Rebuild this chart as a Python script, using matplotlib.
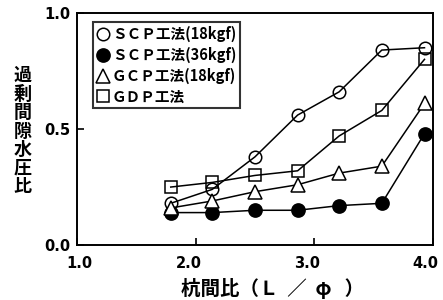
import matplotlib
matplotlib.use("Agg")
import matplotlib.pyplot as plt
import matplotlib.transforms as mtransforms
from matplotlib.lines import Line2D

plt.rcParams["font.family"] = ["Noto Sans CJK JP", "DejaVu Sans"]

# pile spacing ratio L/phi
x_ratio = [1.79, 2.14, 2.50, 2.86, 3.21, 3.57, 3.93]

scp_18 = [0.18, 0.24, 0.38, 0.56, 0.66, 0.84, 0.85]
scp_36 = [0.14, 0.14, 0.15, 0.15, 0.17, 0.18, 0.48]
gcp_18 = [0.16, 0.19, 0.23, 0.26, 0.31, 0.34, 0.61]
gdp = [0.25, 0.27, 0.30, 0.32, 0.47, 0.58, 0.80]

labels = ["ＳＣＰ工法(18kgf)", "ＳＣＰ工法(36kgf)", "ＧＣＰ工法(18kgf)", "ＧＤＰ工法"]
x_ticks = [1.0, 2.0, 3.0, 4.0]
y_ticks = [0.0, 0.5, 1.0]

fig = plt.figure(figsize=(4.43, 3.0), dpi=100)
ax = fig.add_axes([0.174, 0.183, 0.803, 0.774])

styles = [
    (scp_18, "o", "none", 9),
    (scp_36, "o", "black", 9.5),
    (gcp_18, "^", "white", 9.5),
    (gdp, "s", "none", 9),
]
for ys, mk, fc, ms in styles:
    ax.plot(x_ratio, ys, color="black", lw=1.1, marker=mk, ms=ms,
            mfc=fc, mec="black", mew=1.1, zorder=3)

ax.set_xlim(1.0, 4.0)
ax.set_ylim(0.0, 1.0)
ax.set_xticks(x_ticks)
ax.set_yticks(y_ticks)
ax.set_xticklabels([f"{v:.1f}" for v in x_ticks], fontsize=10.5,
                   fontweight="bold", family="DejaVu Sans")
ax.set_yticklabels([f"{v:.1f}" for v in y_ticks], fontsize=10.5,
                   fontweight="bold", family="DejaVu Sans")
ax.tick_params(direction="in", length=5, width=1.2, pad=5)
ax.tick_params(axis="x", pad=8)
# the printed labels sit a little left of their ticks
for i, lab in enumerate(ax.get_xticklabels()):
    dx = 2 if i == 0 else -7
    lab.set_transform(lab.get_transform() +
                      mtransforms.ScaledTranslation(dx / 100, 0, fig.dpi_scale_trans))
for s in ax.spines.values():
    s.set_linewidth(1.4)

fig.text(0.615, 0.04, "杭間比（Ｌ  ／  φ   ）", fontsize=14, fontweight="bold",
         ha="center", va="center")
fig.text(0.051, 0.563, "\n".join("過剰間隙水圧比"), fontsize=13,
         fontweight="bold", ha="center", va="center", linespacing=0.97)

handles = [
    Line2D([], [], ls="None", marker=mk, ms=ms,
           mfc=("white" if fc == "none" else fc), mec="black", mew=1.1)
    for _, mk, fc, ms in styles
]
leg = ax.legend(handles, labels, loc="upper left",
                prop={"weight": "bold", "size": 10.5},
                frameon=True, fancybox=False, handlelength=0.8,
                handletextpad=0.25, labelspacing=0.32, borderpad=0.25,
                borderaxespad=0.0, bbox_to_anchor=(0.045, 0.96))
leg.get_frame().set_edgecolor("black")
leg.get_frame().set_linewidth(1.5)

fig.savefig("out.png", dpi=100)
